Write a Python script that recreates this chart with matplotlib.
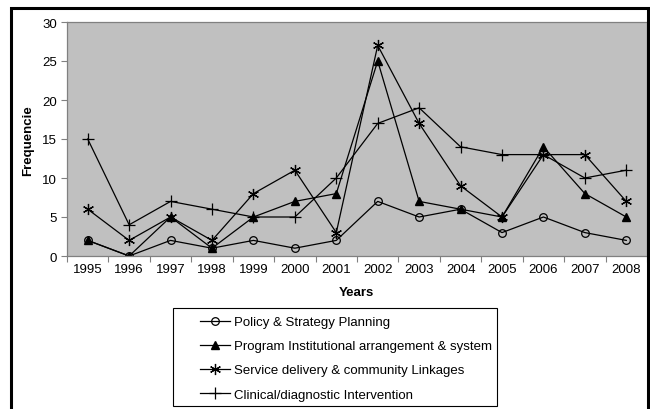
import matplotlib
matplotlib.use("Agg")
import matplotlib.pyplot as plt
from matplotlib.patches import Rectangle
import numpy as np

plt.rcParams["font.family"] = ["Liberation Sans", "DejaVu Sans"]

# ---------------------- data ----------------------
years = ["1995", "1996", "1997", "1998", "1999", "2000", "2001",
         "2002", "2003", "2004", "2005", "2006", "2007", "2008"]
policy = [2, 0, 2, 1, 2, 1, 2, 7, 5, 6, 3, 5, 3, 2]
program = [2, 0, 5, 1, 5, 7, 8, 25, 7, 6, 5, 14, 8, 5]
service = [6, 2, 5, 2, 8, 11, 3, 27, 17, 9, 5, 13, 13, 7]
clinical = [15, 4, 7, 6, 5, 5, 10, 17, 19, 14, 13, 13, 10, 11]
labels = ["Policy & Strategy Planning",
          "Program Institutional arrangement & system",
          "Service delivery & community Linkages",
          "Clinical/diagnostic Intervention"]

W, H = 650, 410
fs = 9.5
fig = plt.figure(figsize=(6.5, 4.1), dpi=100)
ax = fig.add_axes([67 / W, 1 - 257 / H, 580 / W, 234 / H])
ax.set_facecolor("#C0C0C0")

x = np.arange(len(years))
kw = dict(color="black", linewidth=0.9)
l1, = ax.plot(x, policy, marker="o", markersize=5.5, markerfacecolor="none",
              markeredgecolor="black", markeredgewidth=0.9, **kw)
l2, = ax.plot(x, program, marker="^", markersize=6, markerfacecolor="black",
              markeredgecolor="black", **kw)
l3, = ax.plot(x, service, marker=(6, 2, 0), markersize=8,
              markeredgecolor="black", markeredgewidth=0.9, **kw)
l4, = ax.plot(x, clinical, marker="+", markersize=8,
              markeredgecolor="black", markeredgewidth=0.9, **kw)

ax.set_xlim(-0.5, len(years) - 0.5)
ax.set_ylim(0, 30)
ax.set_yticks(range(0, 31, 5))
ax.set_xticks(np.arange(-0.5, len(years), 1.0))
ax.set_xticklabels([])
ax.set_xticks(x, minor=True)
ax.set_xticklabels(years, minor=True)
ax.tick_params(axis="x", which="major", length=4, color="#808080", direction="out")
ax.tick_params(axis="x", which="minor", length=0, pad=5, labelsize=fs)
ax.tick_params(axis="y", length=4, color="#808080", labelsize=fs, pad=3)
for s in ax.spines.values():
    s.set_color("#808080")
    s.set_linewidth(0.9)

fig.text(28 / W, 1 - 141 / H, "Frequencie", rotation=90, fontsize=fs,
         fontweight="bold", ha="center", va="center")
fig.text(356 / W, 1 - 293 / H, "Years", fontsize=fs, fontweight="bold",
         ha="center", va="center")

# legend box
fig.patches.append(Rectangle((173 / W, 1 - 407 / H), 324 / W, 98 / H,
                             transform=fig.transFigure, facecolor="white",
                             edgecolor="black", linewidth=0.8))
fig.legend([l1, l2, l3, l4], labels, loc="upper left",
           bbox_to_anchor=(200 / W, 1 - 317 / H), frameon=False,
           fontsize=fs, handlelength=2.3, handletextpad=0.25,
           labelspacing=0.9, borderpad=0, borderaxespad=0)

# outer frame (bottom edge runs off the image)
fig.patches.append(Rectangle((11 / W, -0.05), 637 / W, 1.05 - 9 / H,
                             transform=fig.transFigure, facecolor="none",
                             edgecolor="black", linewidth=2.2))

fig.savefig("out.png", dpi=100)
